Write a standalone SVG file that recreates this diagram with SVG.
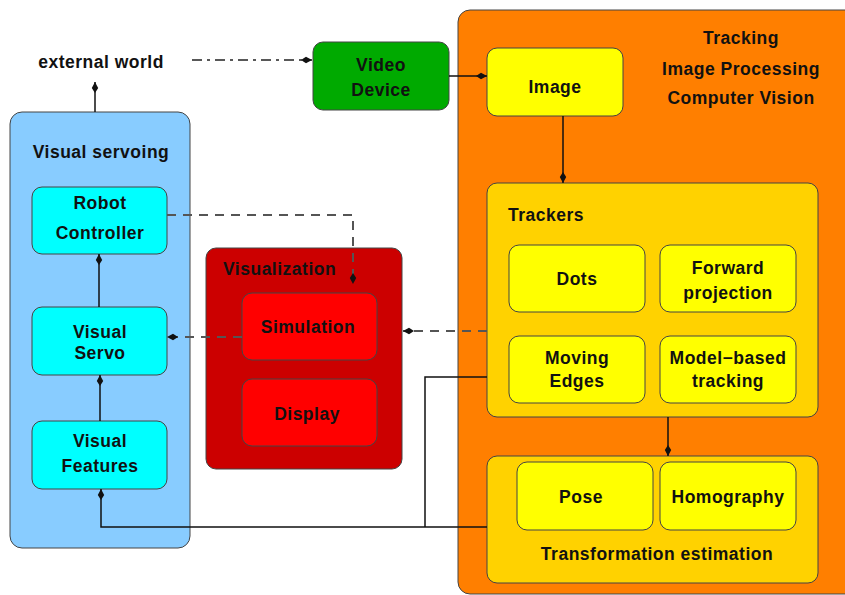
<svg xmlns="http://www.w3.org/2000/svg" width="845" height="595" viewBox="0 0 845 595">
<style>
  text { font-family: "Liberation Sans", Arial, sans-serif; font-weight: bold; font-size: 17.5px; letter-spacing: 0.5px; fill: #111; }
  .c { text-anchor: middle; }
  .box { stroke: #444; stroke-width: 1; }
  .solid { fill: none; stroke: #111; stroke-width: 1.5; }
  .dash { fill: none; stroke: #555; stroke-width: 2; stroke-dasharray: 9,7; }
  .dashdot { fill: none; stroke: #222; stroke-width: 1.3; stroke-dasharray: 10,5,3,5; }
</style>
<defs>
  <marker id="arr" markerUnits="userSpaceOnUse" markerWidth="12" markerHeight="8" refX="11" refY="4" orient="auto">
    <path d="M0,4 L5,0.8 L11,4 L5,7.2 Z" fill="#111"/>
  </marker>
</defs>
<rect width="845" height="595" fill="#fff"/>

<g id="tracking-container">
  <rect class="box" x="458" y="10" width="400" height="584" rx="12" fill="#ff7f00"/>
  <text class="c" x="741" y="44">Tracking</text>
  <text class="c" x="741" y="75">Image Processing</text>
  <text class="c" x="741" y="104">Computer Vision</text>
</g>

<g id="visual-servoing">
  <rect class="box" x="10" y="112" width="180" height="436" rx="12" fill="#88ccff"/>
  <text class="c" x="101" y="158">Visual servoing</text>
</g>

<g id="robot-controller">
  <rect class="box" x="32" y="187" width="135" height="67" rx="10" fill="#00ffff"/>
  <text class="c" x="100" y="209">Robot</text>
  <text class="c" x="100" y="239">Controller</text>
</g>
<g id="visual-servo">
  <rect class="box" x="32" y="307" width="135" height="68" rx="10" fill="#00ffff"/>
  <text class="c" x="100" y="338">Visual</text>
  <text class="c" x="100" y="359">Servo</text>
</g>
<g id="visual-features">
  <rect class="box" x="32" y="421" width="135" height="68" rx="10" fill="#00ffff"/>
  <text class="c" x="100" y="447">Visual</text>
  <text class="c" x="100" y="472">Features</text>
</g>

<g id="external-world">
  <text class="c" x="101" y="68">external world</text>
</g>

<g id="video-device">
  <rect class="box" x="313" y="42" width="136" height="68" rx="10" fill="#00aa00"/>
  <text class="c" x="381" y="71">Video</text>
  <text class="c" x="381" y="96">Device</text>
</g>

<g id="visualization">
  <rect class="box" x="206" y="248" width="196" height="221" rx="10" fill="#cc0000"/>
  <text x="223" y="275">Visualization</text>
</g>
<g id="simulation">
  <rect class="box" x="242" y="293" width="135" height="67" rx="10" fill="#ff0000"/>
  <text class="c" x="308" y="333">Simulation</text>
</g>
<g id="display">
  <rect class="box" x="242" y="379" width="135" height="67" rx="10" fill="#ff0000"/>
  <text class="c" x="307" y="420">Display</text>
</g>

<g id="image">
  <rect class="box" x="487" y="48" width="136" height="68" rx="10" fill="#ffff00"/>
  <text class="c" x="555" y="93">Image</text>
</g>

<g id="trackers">
  <rect class="box" x="487" y="183" width="331" height="234" rx="10" fill="#ffd200"/>
  <text x="508" y="221">Trackers</text>
</g>
<g id="dots">
  <rect class="box" x="509" y="245" width="136" height="67" rx="10" fill="#ffff00"/>
  <text class="c" x="577" y="285">Dots</text>
</g>
<g id="forward-projection">
  <rect class="box" x="660" y="245" width="136" height="67" rx="10" fill="#ffff00"/>
  <text class="c" x="728" y="274">Forward</text>
  <text class="c" x="728" y="299">projection</text>
</g>
<g id="moving-edges">
  <rect class="box" x="509" y="336" width="136" height="67" rx="10" fill="#ffff00"/>
  <text class="c" x="577" y="364">Moving</text>
  <text class="c" x="577" y="387">Edges</text>
</g>
<g id="model-based-tracking">
  <rect class="box" x="660" y="336" width="136" height="67" rx="10" fill="#ffff00"/>
  <text class="c" x="728" y="364">Model−based</text>
  <text class="c" x="728" y="387">tracking</text>
</g>

<g id="transformation-estimation">
  <rect class="box" x="487" y="456" width="331" height="127" rx="10" fill="#ffd200"/>
  <text class="c" x="657" y="560">Transformation estimation</text>
</g>
<g id="pose">
  <rect class="box" x="517" y="462" width="136" height="68" rx="10" fill="#ffff00"/>
  <text class="c" x="581" y="503">Pose</text>
</g>
<g id="homography">
  <rect class="box" x="660" y="462" width="136" height="68" rx="10" fill="#ffff00"/>
  <text class="c" x="728" y="503">Homography</text>
</g>

<g id="connectors">
  <path class="solid" d="M95,112 V82" marker-end="url(#arr)"/>
  <path class="dashdot" d="M192,60 H312" marker-end="url(#arr)"/>
  <path class="solid" d="M449,76 H487" marker-end="url(#arr)"/>
  <path class="solid" d="M563,116 V183" marker-end="url(#arr)"/>
  <path class="solid" d="M668,417 V456" marker-end="url(#arr)"/>
  <path class="solid" d="M99,307 V254" marker-end="url(#arr)"/>
  <path class="solid" d="M100,421 V375" marker-end="url(#arr)"/>
  <path class="dash" d="M167,215 H353 V284" marker-end="url(#arr)"/>
  <path class="dash" d="M487,331 H403" marker-end="url(#arr)"/>
  <path class="dash" d="M242,337 H167" marker-end="url(#arr)"/>
  <path class="solid" d="M487,377 H425 V527"/>
  <path class="solid" d="M487,527 H101 V489" marker-end="url(#arr)"/>
</g>
</svg>
